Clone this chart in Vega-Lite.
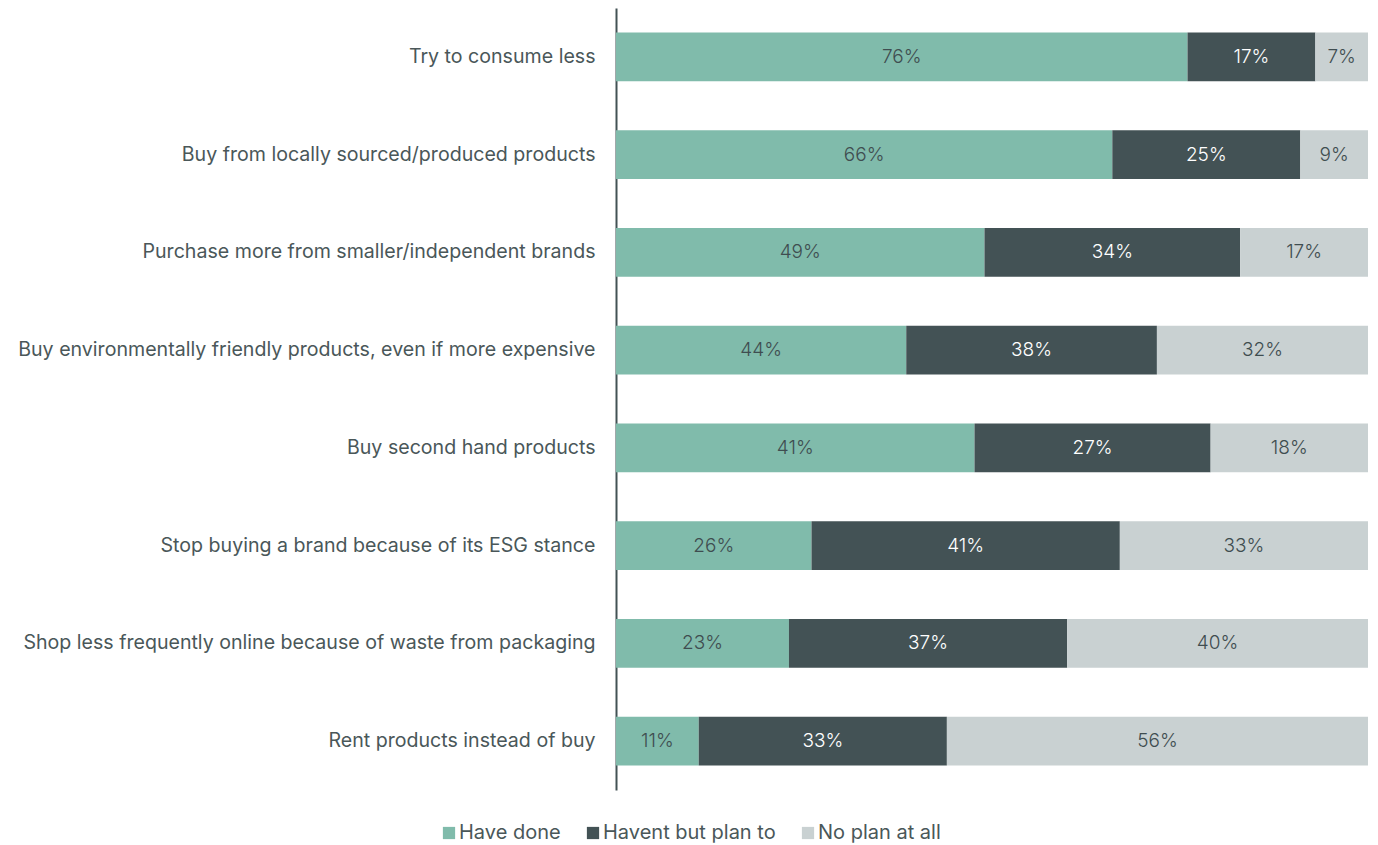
{
  "$schema": "https://vega.github.io/schema/vega-lite/v6.json",
  "width": 752,
  "height": 782,
  "autosize": {"type": "none"},
  "padding": {"left": 616, "top": 8, "right": 10, "bottom": 55},
  "background": "white",
  "config": {
    "view": {"stroke": null},
    "font": "Inter",
    "text": {"font": "Inter"}
  },
  "data": {
    "values": [
      {"item": "Try to consume less", "category": "Have done", "order": 1, "value": 0.76},
      {"item": "Try to consume less", "category": "Havent but plan to", "order": 2, "value": 0.17},
      {"item": "Try to consume less", "category": "No plan at all", "order": 3, "value": 0.07},
      {"item": "Buy from locally sourced/produced products", "category": "Have done", "order": 1, "value": 0.66},
      {"item": "Buy from locally sourced/produced products", "category": "Havent but plan to", "order": 2, "value": 0.25},
      {"item": "Buy from locally sourced/produced products", "category": "No plan at all", "order": 3, "value": 0.09},
      {"item": "Purchase more from smaller/independent brands", "category": "Have done", "order": 1, "value": 0.49},
      {"item": "Purchase more from smaller/independent brands", "category": "Havent but plan to", "order": 2, "value": 0.34},
      {"item": "Purchase more from smaller/independent brands", "category": "No plan at all", "order": 3, "value": 0.17},
      {"item": "Buy environmentally friendly products, even if more expensive", "category": "Have done", "order": 1, "value": 0.44},
      {"item": "Buy environmentally friendly products, even if more expensive", "category": "Havent but plan to", "order": 2, "value": 0.38},
      {"item": "Buy environmentally friendly products, even if more expensive", "category": "No plan at all", "order": 3, "value": 0.32},
      {"item": "Buy second hand products", "category": "Have done", "order": 1, "value": 0.41},
      {"item": "Buy second hand products", "category": "Havent but plan to", "order": 2, "value": 0.27},
      {"item": "Buy second hand products", "category": "No plan at all", "order": 3, "value": 0.18},
      {"item": "Stop buying a brand because of its ESG stance", "category": "Have done", "order": 1, "value": 0.26},
      {"item": "Stop buying a brand because of its ESG stance", "category": "Havent but plan to", "order": 2, "value": 0.41},
      {"item": "Stop buying a brand because of its ESG stance", "category": "No plan at all", "order": 3, "value": 0.33},
      {"item": "Shop less frequently online because of waste from packaging", "category": "Have done", "order": 1, "value": 0.23},
      {"item": "Shop less frequently online because of waste from packaging", "category": "Havent but plan to", "order": 2, "value": 0.37},
      {"item": "Shop less frequently online because of waste from packaging", "category": "No plan at all", "order": 3, "value": 0.40},
      {"item": "Rent products instead of buy", "category": "Have done", "order": 1, "value": 0.11},
      {"item": "Rent products instead of buy", "category": "Havent but plan to", "order": 2, "value": 0.33},
      {"item": "Rent products instead of buy", "category": "No plan at all", "order": 3, "value": 0.56}
    ]
  },
  "encoding": {
    "y": {
      "field": "item",
      "type": "nominal",
      "sort": null,
      "title": null,
      "scale": {"paddingInner": 0.5, "paddingOuter": 0.25},
      "axis": {
        "domainColor": "#435255",
        "domainWidth": 2,
        "ticks": false,
        "labelPadding": 21,
        "labelFontSize": 19.6,
        "labelColor": "#4a5759",
        "labelFont": "Inter",
        "labelLimit": 700
      }
    },
    "x": {
      "field": "value",
      "type": "quantitative",
      "stack": "normalize",
      "axis": null,
      "scale": {"nice": false}
    },
    "order": {"field": "order", "type": "quantitative"}
  },
  "layer": [
    {
      "mark": {"type": "bar"},
      "encoding": {
        "color": {
          "field": "category",
          "type": "nominal",
          "scale": {
            "domain": ["Have done", "Havent but plan to", "No plan at all"],
            "range": ["#80bbab", "#435255", "#c9d1d2"]
          },
          "legend": {
            "orient": "none",
            "direction": "horizontal",
            "legendX": -177,
            "legendY": 815,
            "title": null,
            "symbolType": "square",
            "symbolSize": 150,
            "symbolStrokeWidth": 0,
            "labelFontSize": 20,
            "labelColor": "#4a5759",
            "labelFont": "Inter",
            "labelOffset": 0,
            "labelLimit": 400,
            "columnPadding": 22
          }
        }
      }
    },
    {
      "mark": {"type": "text", "fontSize": 19, "font": "Inter", "fontWeight": 300},
      "encoding": {
        "x": {
          "field": "value",
          "type": "quantitative",
          "stack": "normalize",
          "bandPosition": 0.5
        },
        "detail": {"field": "category"},
        "text": {"field": "value", "type": "quantitative", "format": ".0%"},
        "color": {
          "condition": {"test": "datum.category === 'Havent but plan to'", "value": "#ffffff"},
          "value": "#3f4d50"
        }
      }
    }
  ]
}
